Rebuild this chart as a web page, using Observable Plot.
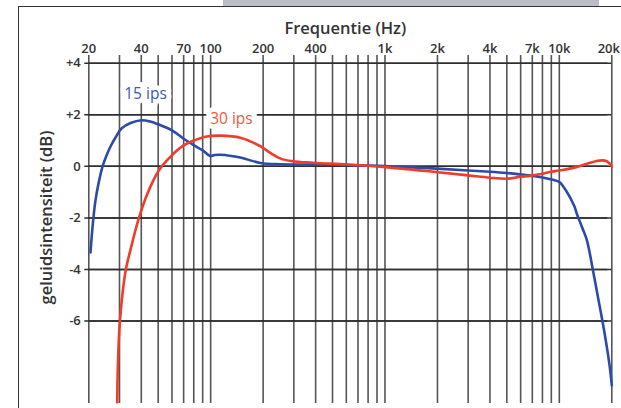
<!DOCTYPE html>
<html>
<head>
<meta charset="utf-8">
<script src="https://cdn.jsdelivr.net/npm/d3@7"></script>
<script src="https://cdn.jsdelivr.net/npm/@observablehq/plot@0.6"></script>
<style>
  html, body { margin: 0; padding: 0; background: #fff; }
  #wrap { position: relative; width: 621px; height: 408px; overflow: hidden; }
  #wrap svg { position: absolute; left: 0; top: 0; }
  .bar { position: absolute; left: 223px; top: 0; width: 376px; height: 6px; background: #b9bdc6; }
  .frameTop { position: absolute; left: 18px; top: 6px; width: 603px; height: 0; border-top: 1.6px solid #333; }
  .frameLeft { position: absolute; left: 18px; top: 6px; width: 0; height: 402px; border-left: 1.6px solid #333; }
</style>
</head>
<body>
<div id="wrap"><div class="bar"></div></div>
<script>
// Grid frequencies (Hz) drawn as vertical lines
const gridFreqs = [20, 30, 40, 50, 60, 70, 80, 90, 100, 200, 300, 400, 500, 600, 700, 800, 900,
  1000, 2000, 3000, 4000, 5000, 6000, 7000, 8000, 9000, 10000, 20000];
// Labelled frequency ticks
const freqLabels = [20, 40, 70, 100, 200, 400, 1000, 2000, 4000, 7000, 10000];
const freqLabelsEdge = [20000];
// dB ticks
const dbTicks = [4, 2, 0, -2, -4, -6];

// 15 ips response
const freq15 = [20.45, 21.13, 21.85, 22.73, 23.97, 25.27, 26.64, 28.46, 30.8, 34.7, 40, 45, 50, 60, 70, 80, 90, 100, 105, 114, 148, 193, 252,
  400, 600, 1000, 2000, 3000, 4000, 5000, 5900, 7700, 9200, 10000, 10900, 12200, 12600, 13500, 14400, 15600, 16800, 18100, 19400, 20000];
const db15 = [-3.34, -2.17, -1.32, -0.67, -0.01, 0.42, 0.77, 1.12, 1.47, 1.68, 1.79, 1.74, 1.63, 1.40, 1.07, 0.82, 0.62, 0.40, 0.44, 0.45, 0.34, 0.13, 0.08,
  0.07, 0.05, 0.01, -0.09, -0.16, -0.21, -0.26, -0.31, -0.41, -0.52, -0.61, -0.93, -1.55, -1.84, -2.36, -2.87, -4.04, -5.2, -6.4, -7.7, -8.5];

// 30 ips response
const freq30 = [29.11, 29.35, 30.13, 32.48, 34.7, 38.7, 43.3, 50.4, 58.9, 70, 80, 95, 114, 148, 193, 220, 252, 295, 385, 608,
  1000, 1954, 3000, 4000, 5000, 5900, 6800, 7700, 8800, 10000, 12200, 14400, 16400, 18600, 20000];
const db30 = [-9.15, -7.79, -6.05, -4.07, -3.23, -2.02, -1.07, -0.16, 0.38, 0.81, 1.0, 1.16, 1.19, 1.11, 0.78, 0.52, 0.3, 0.2, 0.14, 0.07,
  -0.03, -0.22, -0.35, -0.44, -0.48, -0.41, -0.37, -0.31, -0.22, -0.16, -0.05, 0.1, 0.21, 0.21, 0.0];

// Series labels
const seriesNames = ["15 ips", "30 ips"];
const seriesColors = ["#2c4ba8", "#f03c2a"];
const labelColors = ["#3f57b3", "#f2553c"];
const labelFreq = [42.3, 131.6];
const labelDb = [2.82, 1.85];

const s15 = freq15.map((f, i) => ({f, db: db15[i]}));
const s30 = freq30.map((f, i) => ({f, db: db30[i]}));
const labels = seriesNames.map((name, i) => ({name, f: labelFreq[i], db: labelDb[i], color: labelColors[i]}));

const fmtFreq = d => d >= 1000 ? (d / 1000) + "k" : String(d);
const fmtDb = d => d > 0 ? "+" + d : d < 0 ? "-" + Math.abs(d) : "0";

const font = "'Open Sans', 'DejaVu Sans', sans-serif";
const tickStyle = {fontSize: 13, fontWeight: 600, fill: "#333"};

const chart = Plot.plot({
  width: 621,
  height: 408,
  marginLeft: 88.3,
  marginRight: 9.7,
  marginTop: 55,
  marginBottom: 5,
  x: {type: "log", domain: [20, 20000], axis: null},
  y: {domain: [-9.2, 4.3], axis: null},
  style: {fontFamily: font, background: "transparent", overflow: "visible"},
  marks: [
    Plot.ruleX(gridFreqs, {stroke: "#555", strokeWidth: 1.6}),
    Plot.ruleY(dbTicks, {stroke: "#2e2e2e", strokeWidth: 1.5}),
    Plot.tickY(dbTicks, {y: d => d, dx: -4, stroke: "#2e2e2e", strokeWidth: 1.5}),
    Plot.text(freqLabels, {x: d => d, frameAnchor: "top", dy: -12, text: fmtFreq, ...tickStyle}),
    Plot.text(freqLabelsEdge, {x: d => d, frameAnchor: "top", dy: -12, dx: -3, text: fmtFreq, ...tickStyle}),
    Plot.text(dbTicks, {y: d => d, frameAnchor: "left", textAnchor: "end", dx: -8, text: fmtDb, ...tickStyle}),
    Plot.text(labels, {x: "f", y: "db", text: "name", fontSize: 15.5, fill: "white", stroke: "white", strokeWidth: 10}),
    Plot.line(s15, {x: "f", y: "db", stroke: seriesColors[0], strokeWidth: 2.6, curve: "catmull-rom"}),
    Plot.line(s30, {x: "f", y: "db", stroke: seriesColors[1], strokeWidth: 2.6, curve: "catmull-rom"}),
    Plot.text(labels, {x: "f", y: "db", text: "name", fontSize: 15.5, fill: "color"}),
    Plot.text(["Frequentie (Hz)"], {frameAnchor: "top", dy: -33, dx: -5, fontSize: 16.5, fontWeight: 600, fill: "#333"}),
    Plot.text(["geluidsintensiteit (dB)"], {frameAnchor: "left", textAnchor: "middle", rotate: -90, dx: -42, dy: -12, fontSize: 16.5, fontWeight: 600, fill: "#333"})
  ]
});

const wrap = document.getElementById("wrap");
wrap.appendChild(chart);
const ft = document.createElement("div"); ft.className = "frameTop"; wrap.appendChild(ft);
const fl = document.createElement("div"); fl.className = "frameLeft"; wrap.appendChild(fl);
</script>
</body>
</html>
